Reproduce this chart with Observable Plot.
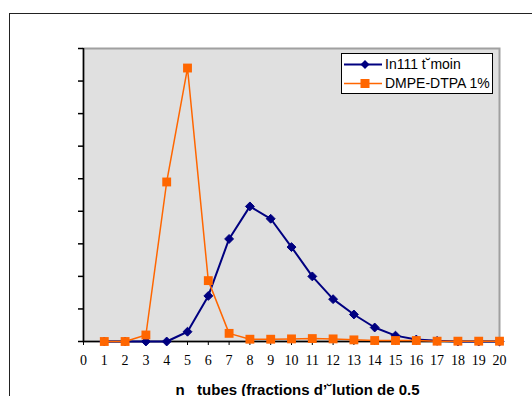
<!DOCTYPE html>
<html>
<head>
<meta charset="utf-8">
<script src="https://cdn.jsdelivr.net/npm/d3@7"></script>
<script src="https://cdn.jsdelivr.net/npm/@observablehq/plot@0.6"></script>
<style>
  html, body { margin: 0; padding: 0; background: #fff; }
  #wrap { position: relative; width: 532px; height: 396px; overflow: hidden; }
  #frameBox { position: absolute; left: 9px; top: 13px; width: 600px; height: 500px;
    border-left: 1.5px solid #222; border-top: 1.5px solid #222; box-sizing: border-box; }
  #legend { position: absolute; left: 341px; top: 53px; width: 152px; height: 41px;
    border: 1px solid #000; background: #fff; box-sizing: border-box; overflow: hidden;
    font-family: "Liberation Sans", Arial, sans-serif; font-size: 14px; color: #000; }
  .row { position: absolute; left: 2px; height: 20px; display: flex; align-items: center; white-space: nowrap; }
  .row svg { display: block; margin-right: 3px; }
  #chart { position: absolute; left: 0; top: 0; }
</style>
</head>
<body>
<div id="wrap">
  <div id="frameBox"></div>
  <div id="chart"></div>
  <div id="legend"></div>
</div>
<script>
const tubes = d3.range(1, 21);
const in111 = [0, 0, 0, 0, 0.3, 1.4, 3.15, 4.15, 3.77, 2.9, 2.0, 1.3, 0.83, 0.43, 0.18, 0.06, 0.02, 0, 0, 0];
const dmpe  = [0, 0, 0.2, 4.9, 8.4, 1.87, 0.25, 0.07, 0.07, 0.08, 0.09, 0.08, 0.05, 0.03, 0.03, 0.03, 0.01, 0.01, 0.01, 0.01];
const seriesNames = ["In111 t˘moin", "DMPE-DTPA 1%"];
const seriesColors = ["#000080", "#ff6600"];
const xTicks = d3.range(0, 21);
const yTicks = d3.range(0, 10);
const xTitle = "n\u00a0\u00a0\u00a0tubes (fractions d’˘lution de 0.5";

const blue = tubes.map((t, i) => ({x: t, y: in111[i]}));
const orange = tubes.map((t, i) => ({x: t, y: dmpe[i]}));

const chart = Plot.plot({
  width: 532,
  height: 396,
  marginLeft: 83,
  marginRight: 33,
  marginTop: 48,
  marginBottom: 55,
  style: {background: "transparent", overflow: "visible"},
  x: {domain: [0, 20]},
  y: {domain: [0, 9]},
  marks: [
    Plot.frame({fill: "#e0e0e0", stroke: "#a0a0a0", strokeWidth: 2}),
    Plot.axisX({ticks: xTicks, tickSize: 4, tickPadding: 10, label: null,
      fontFamily: "Liberation Serif, Times New Roman, serif", fontSize: 14, stroke: "#000", fill: "#000"}),
    Plot.axisY({ticks: yTicks, tickSize: 5, tickFormat: () => "", label: null, stroke: "#000", strokeWidth: 1.5}),
    Plot.ruleX([0], {stroke: "#000", strokeWidth: 1.5}),
    Plot.ruleY([0], {stroke: "#000", strokeWidth: 1.5}),
    Plot.line(blue, {x: "x", y: "y", stroke: seriesColors[0], strokeWidth: 2}),
    Plot.dot(blue, {x: "x", y: "y", symbol: "diamond2", r: 4, fill: seriesColors[0], stroke: seriesColors[0], strokeWidth: 1}),
    Plot.line(orange, {x: "x", y: "y", stroke: seriesColors[1], strokeWidth: 1.5}),
    Plot.dot(orange, {x: "x", y: "y", symbol: "square", r: 5, fill: seriesColors[1]}),
    Plot.text([xTitle], {frameAnchor: "bottom", dy: 53, dx: 6, fontFamily: "Liberation Sans, Arial, sans-serif",
      fontSize: 15, fontWeight: "bold", fill: "#000"})
  ]
});
document.getElementById("chart").appendChild(chart);

// legend
const legend = document.getElementById("legend");
seriesNames.forEach((name, i) => {
  const row = document.createElement("div");
  row.className = "row";
  row.style.top = (i === 0 ? 0 : 19) + "px";
  const sym = i === 0
    ? `<path d="M21 2 L25.5 6.5 L21 11 L16.5 6.5 Z" fill="${seriesColors[0]}"/>`
    : `<rect x="16.5" y="2" width="9" height="9" fill="${seriesColors[1]}"/>`;
  row.innerHTML = `<svg width="38" height="13"><line x1="0" x2="38" y1="6.5" y2="6.5" stroke="${seriesColors[i]}" stroke-width="${i === 0 ? 2 : 1.5}"/>${sym}</svg><span>${name}</span>`;
  legend.appendChild(row);
});
</script>
</body>
</html>
